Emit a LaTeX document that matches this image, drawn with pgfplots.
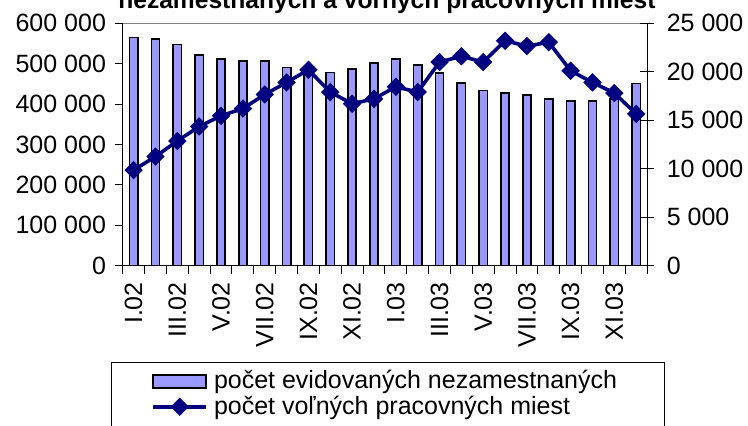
\documentclass[border=0pt]{standalone}
\usepackage{fontspec}
\setmainfont{Liberation Sans}
\usepackage{pgfplots}
\pgfplotsset{compat=1.18}
\definecolor{barfill}{HTML}{9999FF}
\definecolor{navy}{HTML}{000080}
\pgfplotsset{
  barlegend/.style={legend image code/.code={%
    \draw[fill=barfill,draw=black,line width=0.8pt] (0pt,-3.25pt) rectangle (26.5pt,3.25pt);}},
  linelegend/.style={legend image code/.code={%
    \draw[mark repeat=2,mark phase=2,##1] plot coordinates {(0pt,0pt) (13.25pt,0pt) (26.5pt,0pt)};}},
}

\begin{document}
\fontsize{12.5}{15}\selectfont
\begin{tikzpicture}
% bars: registered unemployed (left axis)
\begin{axis}[
  at={(0pt,0pt)}, anchor=south west,
  scale only axis, width=262.2pt, height=121.1pt,
  ybar, bar width=0.38,
  xmin=-0.5, xmax=23.5, ymin=0, ymax=600000,
  axis x line*=bottom, axis y line*=left,
  axis line style={black, line width=0.5pt},
  tick align=outside, major tick length=4pt,
  tick style={black, line width=0.5pt},
  xtick={-0.5,0.5,...,23.5}, xticklabels={},
  extra x ticks={0,2,...,22},
  extra x tick labels={I.02,III.02,V.02,VII.02,IX.02,XI.02,I.03,III.03,V.03,VII.03,IX.03,XI.03},
  extra x tick style={tick style={draw=none}},
  xticklabel style={rotate=90, anchor=east},
  ytick={0,100000,...,600000},
  yticklabels={0,100~000,200~000,300~000,400~000,500~000,600~000},
  scaled y ticks=false,
  title={nezamestnaných a voľných pracovných miest},
  every axis title/.style={at={(0.5,1)}, anchor=base, yshift=7.6pt, xshift=1pt,
    font=\bfseries\fontsize{12.3}{14}\selectfont},
]
\addplot[fill=barfill, draw=black, line width=0.8pt] coordinates {
  (0,565000) (1,561000) (2,548000) (3,521000) (4,512000) (5,507000)
  (6,507000) (7,491000) (8,482000) (9,478000) (10,487000) (11,502000)
  (12,511000) (13,496000) (14,477000) (15,452000) (16,434000) (17,428000)
  (18,423000) (19,412000) (20,408000) (21,408000) (22,413000) (23,451000)
};
\draw[gray, line width=0.5pt] (rel axis cs:0,1) -- (rel axis cs:1,1);
\end{axis}
% line: vacancies (right axis)
\begin{axis}[
  at={(0pt,0pt)}, anchor=south west,
  scale only axis, width=262.2pt, height=121.1pt,
  xmin=-0.5, xmax=23.5, ymin=0, ymax=25000,
  axis x line=none, axis y line*=right,
  axis line style={black, line width=0.5pt},
  tick align=center, major tick length=7pt,
  tick style={black, line width=0.5pt},
  ytick={0,5000,...,25000},
  yticklabels={0,5~000,10~000,15~000,20~000,25~000},
  yticklabel style={xshift=2pt},
  scaled y ticks=false,
  linelegend,
  legend cell align=left,
  legend style={at={(0.054,-0.4244)}, anchor=north west,
    draw=none, fill=none, inner sep=0pt,
    nodes={inner xsep=3pt, inner ysep=0.8pt},
    font=\fontsize{12.5}{15}\selectfont},
]
\addlegendimage{barlegend}
\addlegendentry{počet evidovaných nezamestnaných}
\addplot[navy, line width=1.8pt, mark=square*,
  mark options={rotate=45, solid, fill=navy, line width=0.5pt}, mark size=3pt] coordinates {
  (0,9850) (1,11250) (2,12850) (3,14350) (4,15450) (5,16200)
  (6,17650) (7,18900) (8,20200) (9,17900) (10,16700) (11,17200)
  (12,18450) (13,17900) (14,21000) (15,21600) (16,21000) (17,23200)
  (18,22650) (19,23050) (20,20100) (21,18900) (22,17800) (23,15650)
};
\addlegendentry{počet voľných pracovných miest}
\end{axis}
% legend frame, open at the bottom edge like the reference
\draw[black, line width=0.5pt] (-5.5pt,-48.4pt) rectangle (271.1pt,-95pt);
\pgfresetboundingbox
\useasboundingbox (-61.35pt,-79.75pt) rectangle (312.65pt,132.75pt);
\end{tikzpicture}
\end{document}
